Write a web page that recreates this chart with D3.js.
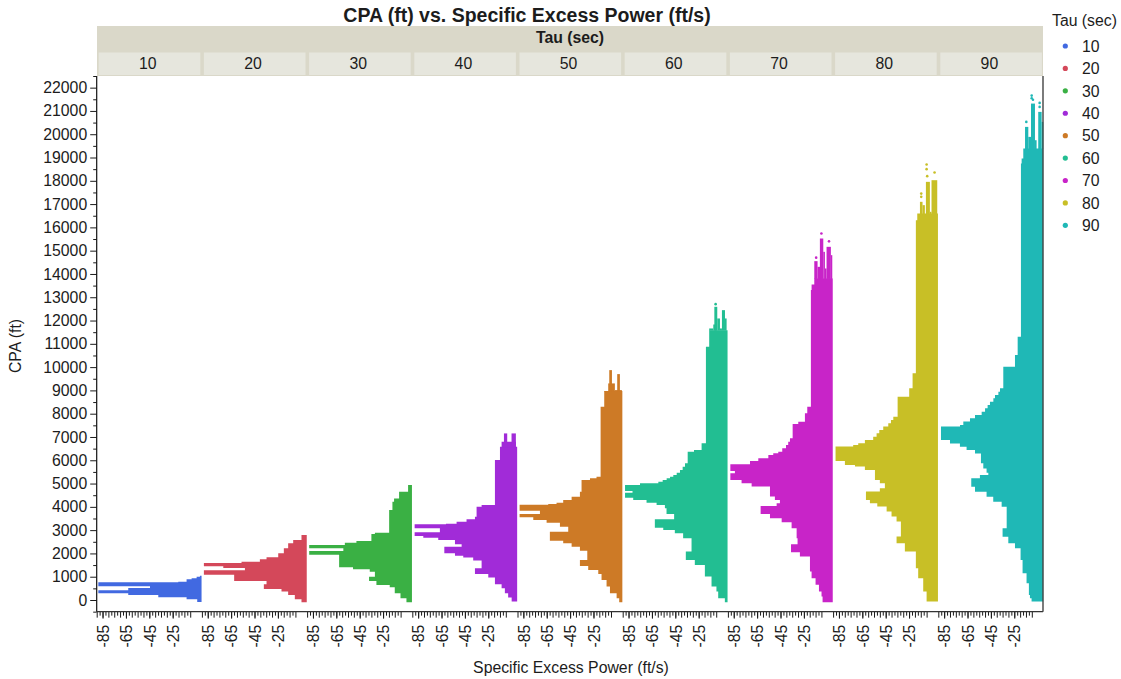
<!DOCTYPE html>
<html>
<head>
<meta charset="utf-8">
<style>
html,body{margin:0;padding:0;background:#fff;}
svg{display:block;}
text{font-family:"Liberation Sans",Arial,sans-serif;fill:#1c1c1c;}
</style>
<script src="https://cdn.jsdelivr.net/npm/d3@7/dist/d3.min.js"></script>
</head>
<body>
<svg id="chart" width="1121" height="679"></svg>
<script>
const tauValues = [10,20,30,40,50,60,70,80,90];
const tauColors = ["#4169e1","#d4485a","#3ab044","#a12bd8","#cd7a26","#22be92","#c824c8","#c8bf26","#1fb8b6"];
const xTickLabels = [-85,-65,-45,-25];
const yTickLabels = d3.range(0,22001,1000);

// Silhouette of each panel: the leftmost power reached at each CPA row, top to bottom.
const cpa10 = [1046,1003,932,889,789,760,588,517,417,288,217,116,30,-84];
const left10 = [-1.7,-4.5,-8.8,-13.1,-20.2,-88.6,-44.4,-63,-88.6,-63,-37.3,-13.1,-4,-4];

const cpa20 = [2790,2576,2433,2218,2004,1832,1747,1647,1589,1446,1375,1275,1089,817,674,474,360,217,30,-98];
const left20 = [-4.8,-11.9,-16.2,-19.9,-24.7,-34.7,-40.4,-56.1,-88.3,-71.7,-53.2,-88.3,-62.4,-34.7,-37,-21.9,-16.2,-10.5,-4.8,-4.8];

const cpa30 = [4935,4650,4363,4220,3863,2891,2833,2533,2462,2361,2218,2104,1947,1403,1318,1218,1003,817,645,545,288,74,-98];
const left30 = [-3.6,-11.3,-15.6,-17,-19.8,-32,-35,-47.8,-57.7,-88.2,-59,-88.2,-62.6,-50.7,-36.4,-32,-37,-30.7,-19.3,-15,-10.1,-5,-5];

const cpa40 = [6580,6010,4079,4008,3579,3464,3364,3278,3250,3078,2907,2749,2678,2578,2391,2292,2006,1905,1820,1691,1362,1119,962,675,504,289,104,-68];
const left40 = [-15,-19.3,-30.7,-35,-36.4,-43.6,-52.1,-61.2,-88,-66.4,-88,-80.6,-67.8,-53.5,-47.8,-62.6,-53.5,-46.4,-37.9,-30.7,-36.4,-25,-19.3,-13.6,-10.8,-8,-5,-5];

const cpa50 = [8970,8298,5295,5223,5152,4651,4437,4294,4180,4122,4094,3836,3693,3550,3436,3322,3150,2935,2549,2435,2292,2120,1720,1463,1291,1119,861,576,290,75,-96];
const left50 = [-15.8,-18.9,-22.4,-28,-35.2,-36.6,-43.7,-50.9,-56.6,-63.7,-88.2,-70.8,-88.2,-76.5,-65.1,-53.7,-46.6,-62.3,-50.9,-43.7,-36.6,-30.3,-36.6,-29.5,-20.9,-18.1,-13.8,-10.9,-5.2,-3,-3];

const cpa60 = [11588,10873,6727,6440,6369,5868,5726,5583,5468,5368,5296,5225,5154,5082,5010,4938,4680,4608,4394,4294,4180,4080,3936,3693,3465,3107,3007,2864,2650,2078,1720,1505,1005,576,362,76,-96];
const left60 = [-16,-18.8,-22.5,-29,-34.4,-36.7,-38.7,-41,-43.8,-46.7,-49.5,-52.4,-55.8,-59.5,-75.2,-88,-81.6,-88,-81,-69.6,-61,-53.9,-52.5,-46,-62.5,-55.3,-45.4,-38.3,-31.1,-36,-28.3,-19.7,-14,-9.8,-8.3,-2.6,-2.6];

const cpa70 = [13806,13549,13306,8300,8014,7657,7557,6942,6799,6656,6513,6370,6298,6227,6084,5970,5827,5541,5441,5155,5012,4869,4440,4296,4154,4039,3696,3510,3338,3081,2652,2395,2051,1866,1222,936,650,364,150,-94];
const left70 = [-16.1,-18.4,-19,-22.1,-24.1,-29.8,-34.6,-36.9,-38.4,-40.3,-43.5,-46.9,-51.2,-55.4,-64,-71.1,-87.9,-84,-87.9,-78.3,-69.7,-54,-49.8,-45.5,-48.3,-62,-54,-44,-35.5,-31.2,-30.4,-36,-28.4,-19.8,-18.4,-15,-12.1,-9.9,-9,-9];

const cpa80 = [16596,16310,9732,9089,8732,7874,7731,7588,7445,7301,7158,7015,6872,6730,6658,6587,5972,5800,5729,5586,5157,5014,4799,4656,4299,4155,4012,3798,3584,3369,2726,2440,2082,1367,938,366,-63];
const left80 = [-18,-19.2,-22,-24.9,-34.8,-38.5,-40.5,-42.8,-47.1,-50.5,-52.8,-55.7,-62.8,-68.5,-72.8,-87.9,-79.9,-71.3,-62.8,-54.2,-50,-45.7,-50,-61.9,-58.5,-52.2,-44.2,-40,-35.7,-32,-35.7,-28.6,-19.2,-17.2,-12.9,-10,-10];

const cpa90 = [19385,18957,18742,11306,10520,10019,9090,8946,8803,8660,8518,8375,8232,8088,7946,7802,7660,7517,7445,6868,6725,6582,6439,6296,5867,5652,5467,5366,5223,4866,4651,4437,4222,4008,3078,2721,2435,2220,1720,1148,719,218,75,-67];
const left90 = [-17.3,-18.7,-19.3,-22.1,-24.4,-34.4,-37.2,-38.6,-41.5,-42.9,-45.8,-47.8,-50,-52.9,-58.6,-62.9,-68.6,-71.4,-87.7,-80,-71.5,-65.8,-58.6,-53.5,-51.5,-48.7,-47.2,-54.4,-61.8,-58.6,-48.7,-43,-35.8,-31.5,-35,-30.1,-24.4,-19.6,-17.9,-14.5,-12.5,-11.6,-10.2,-10.2];

// Columns of the jagged top: [power from, power to, highest CPA]
const spikes40 = [[-13.6,-1.4,6796],[-11.6,-8.8,7153],[-5.1,-1.4,7153]];
const spikes50 = [[-15.8,-12.4,8970],[-12.4,-6.7,9300],[-11.5,-9.2,9871],[-6.7,-0.7,9013],[-4.7,-2.4,9700]];
const spikes60 = [[-16,-12.5,11660],[-12.5,-9.6,11830],[-11.6,-9.1,12590],[-9.1,-6.8,12089],[-6.8,-5.1,11660],[-5.1,-2.5,12446],[-2.5,-1.1,12089]];
const spikes70 = [[-16.1,-13.3,14550],[-13.3,-9.9,14306],[-11.3,-8.4,15522],[-8.4,-7,14950],[-7,-5.6,14235],[-5.6,-1.9,15165],[-1.9,-0.7,14807]];
const spikes80 = [[-15.7,-13.5,17097],[-13.5,-11.5,16954],[-10.6,-7.2,17955],[-7.2,-5.8,16668],[-5.8,-0.9,18026]];
const spikes90 = [[-15.8,-13,20315],[-13,-10.1,19886],[-10.7,-7.3,21316],[-7.3,-5.9,19743],[-4.5,-1.6,20959],[-1.6,-0.2,20530]];

// Isolated points above the columns: [power, CPA]
const dots60 = [[-10.5,12704]];
const dots70 = [[-10,15736],[-3.5,15400],[-14.5,14700]];
const dots80 = [[-10,18700],[-10,18500],[-3.2,18355],[-14.6,17450],[-14.6,17311],[-9.5,18200]];
const dots90 = [[-10.1,21659],[-10.1,21545],[-3.3,21345],[-3.3,21173],[-14.7,20530],[-9,21480]];

const silhouettes = [
  {tau:10,cpa:cpa10,left:left10,spikes:[],dots:[]},
  {tau:20,cpa:cpa20,left:left20,spikes:[],dots:[]},
  {tau:30,cpa:cpa30,left:left30,spikes:[],dots:[]},
  {tau:40,cpa:cpa40,left:left40,spikes:spikes40,dots:[]},
  {tau:50,cpa:cpa50,left:left50,spikes:spikes50,dots:[]},
  {tau:60,cpa:cpa60,left:left60,spikes:spikes60,dots:dots60},
  {tau:70,cpa:cpa70,left:left70,spikes:spikes70,dots:dots70},
  {tau:80,cpa:cpa80,left:left80,spikes:spikes80,dots:dots80},
  {tau:90,cpa:cpa90,left:left90,spikes:spikes90,dots:dots90}
];

const rightPower = -0.3;
const plot = {left:96.7,right:1043,top:76,bottom:611.65};
const svg = d3.select("#chart");
const y = d3.scaleLinear().domain([-500,22500]).range([plot.bottom,plot.top]);
const panel = d3.scaleBand().domain(tauValues).range([plot.left,plot.left+105.2*9]);
const color = d3.scaleOrdinal().domain(tauValues).range(tauColors);
const FS = 15.8;

// Title + strips
svg.append("text").attr("x",527).attr("y",22).attr("text-anchor","middle")
  .attr("font-size",19.5).attr("font-weight","bold").text("CPA (ft) vs. Specific Excess Power (ft/s)");
svg.append("rect").attr("x",97).attr("y",26).attr("width",946).attr("height",50).attr("fill","#dad8c9");
svg.append("text").attr("x",570).attr("y",43).attr("text-anchor","middle")
  .attr("font-size",FS).attr("font-weight","bold").text("Tau (sec)");
const cells = svg.append("g").selectAll("g").data(tauValues).join("g");
cells.append("rect").attr("x",d=>panel(d)+2).attr("y",52.5)
  .attr("width",panel.bandwidth()-3.6).attr("height",22.5).attr("fill","#e6e6dd");
cells.append("text").attr("x",d=>panel(d)+panel.bandwidth()/2-1.5).attr("y",68.5)
  .attr("text-anchor","middle").attr("font-size",FS).text(d=>d);

// Panels
silhouettes.forEach(s=>{
  const x = d3.scaleLinear().domain([-90,0]).range([panel(s.tau),panel(s.tau)+panel.bandwidth()]);
  const g = svg.append("g").attr("fill",color(s.tau));
  const rows = s.cpa.map((c,i)=>({c,l:s.left[i]}));
  const area = d3.area().x0(d=>x(d.l)).x1(x(rightPower)).y(d=>y(d.c)).curve(d3.curveStepBefore);
  g.append("path").datum(rows).attr("d",area);
  g.selectAll("rect").data(s.spikes).join("rect")
    .attr("x",d=>x(d[0])).attr("width",d=>x(d[1])-x(d[0]))
    .attr("y",d=>y(d[2])).attr("height",d=>y(s.cpa[0])-y(d[2])+0.5);
  g.selectAll("circle").data(s.dots).join("circle")
    .attr("cx",d=>x(d[0])).attr("cy",d=>y(d[1])).attr("r",1.3);
  // x axis of the panel
  const axis = svg.append("g").attr("transform",`translate(0,${plot.bottom})`)
    .call(d3.axisBottom(x).tickValues(xTickLabels).tickSize(7).tickFormat(d=>String(d)));
  axis.select(".domain").remove();
  axis.selectAll("line").attr("stroke","#1a1a1a");
  axis.selectAll("text")
    .attr("transform","translate(0,13) rotate(-90)")
    .attr("x",0).attr("y",0).attr("dy","0.36em").attr("text-anchor","end")
    .attr("font-size",FS).attr("fill","#1c1c1c").style("font-family",'"Liberation Sans"');
  const minor = svg.append("g").attr("transform",`translate(0,${plot.bottom})`)
    .call(d3.axisBottom(x).tickValues(d3.range(-90,-9,2.5)).tickSize(4).tickFormat(""));
  minor.select(".domain").remove();
  minor.selectAll("line").attr("stroke","#1a1a1a");
  minor.selectAll("line").filter(d=>(d+90)%5===0).attr("y2",6);
});

// Y axis
const yAxis = svg.append("g").attr("transform",`translate(${plot.left},0)`)
  .call(d3.axisLeft(y).tickValues(yTickLabels).tickSize(6.5).tickPadding(3).tickFormat(d=>String(d)));
yAxis.select(".domain").remove();
yAxis.selectAll("line").attr("stroke","#1a1a1a");
yAxis.selectAll("text").attr("font-size",FS).attr("fill","#1c1c1c").style("font-family",'"Liberation Sans"');
const yMinor = svg.append("g").attr("transform",`translate(${plot.left},0)`)
  .call(d3.axisLeft(y).tickValues(d3.range(-500,22501,1000)).tickSize(3.5).tickFormat(""));
yMinor.select(".domain").remove();
yMinor.selectAll("line").attr("stroke","#1a1a1a");

// Frame
svg.append("line").attr("x1",plot.left).attr("x2",plot.left).attr("y1",plot.top).attr("y2",plot.bottom).attr("stroke","#111").attr("stroke-width",1.2);
svg.append("line").attr("x1",plot.left).attr("x2",plot.right).attr("y1",plot.bottom).attr("y2",plot.bottom).attr("stroke","#333").attr("stroke-width",1.2);
svg.append("line").attr("x1",plot.right).attr("x2",plot.right).attr("y1",plot.top).attr("y2",plot.bottom).attr("stroke","#444").attr("stroke-width",1.4);

// Axis titles
svg.append("text").attr("transform","translate(21,346) rotate(-90)").attr("text-anchor","middle").attr("font-size",FS).text("CPA (ft)");
svg.append("text").attr("x",571).attr("y",672.5).attr("text-anchor","middle").attr("font-size",FS).text("Specific Excess Power (ft/s)");

// Legend
svg.append("text").attr("x",1052).attr("y",26).attr("font-size",FS).text("Tau (sec)");
const leg = d3.scaleLinear().domain([0,8]).range([46,225.3]);
const legend = svg.append("g").selectAll("g").data(tauValues).join("g")
  .attr("transform",(d,i)=>`translate(0,${leg(i)})`);
legend.append("circle").attr("cx",1065.3).attr("r",2.6).attr("fill",d=>color(d));
legend.append("text").attr("x",1082).attr("dy","0.36em").attr("font-size",FS).text(d=>d);
</script>
</body>
</html>
